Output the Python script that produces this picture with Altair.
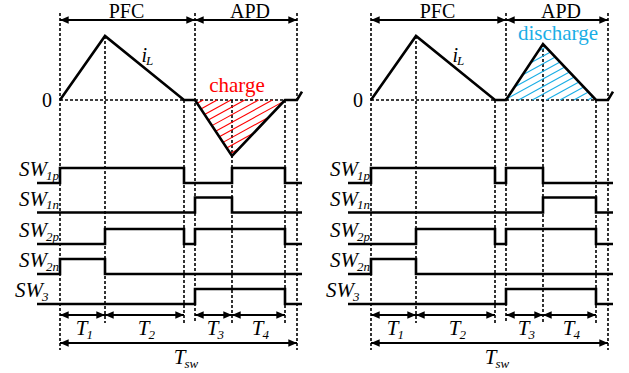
import altair as alt
import numpy as np
import pandas as pd

# ---------------- data ----------------
# switching instants within one period (time units), t0..t6 ; Tsw = t6 - t0
EVENTS = [0, 45, 124, 135, 172, 225, 237]
T_PRE = -23     # waveforms start a little before t0
T_POST = 242    # and end a little after t6
PANELS = ["charge", "discharge"]
PHASES = ["PFC", "APD"]
AREA_TEXT = ["charge", "discharge"]
IL_PFC_PEAK = [1.0, 1.0]        # normalised inductor current peak in PFC
IL_APD_PEAK = [-0.875, 0.875]   # APD extreme (negative = charge, positive = discharge)
IL_TAIL = [0.13, 0.13]          # start of next period
SW_NAMES = ["1p", "1n", "2p", "2n", "3"]
# gate states for intervals [pre, T1, T2, dead, T3, T4, rest]
SW_STATES = {
    "charge": [
        [0, 1, 1, 0, 0, 1, 0],
        [0, 0, 0, 0, 1, 0, 0],
        [0, 0, 1, 0, 1, 1, 0],
        [0, 1, 0, 0, 0, 0, 0],
        [0, 0, 0, 0, 1, 1, 0],
    ],
    "discharge": [
        [0, 1, 1, 0, 1, 0, 0],
        [0, 0, 0, 0, 0, 1, 0],
        [0, 0, 1, 0, 1, 1, 0],
        [0, 1, 0, 0, 0, 0, 0],
        [0, 0, 0, 0, 1, 1, 0],
    ],
}
INTERVALS = [("1", 0, 1), ("2", 1, 2), ("3", 3, 4), ("4", 4, 5)]
AREA_COLORS = ["#ff0000", "#1aaee6"]

# ---------------- layout ----------------
W, H = 629, 373
X0 = [60, 371]
Y_ZERO = 100
IL_GAIN = 64
ROW_LOW = [183, 212.5, 244, 274, 304]
ROW_AMP = 15
Y_TOP_ARROW = 20
Y_T_ARROW = 315
Y_TSW_ARROW = 343
Y_DASH_TOP = 13
Y_DASH_MID = 323
Y_DASH_LOW = 350
SERIF = "Liberation Serif"


def px(p, t):
    return X0[p] + t


def py(v):
    return Y_ZERO - IL_GAIN * v


vdash, zero, il, hatch, sig, arrows, heads = [], [], [], [], [], [], []
txt_reg, txt_it_r, txt_it_l = [], [], []


def hatch_lines(poly, slope, step):
    vals = [y + slope * x for x, y in poly]
    out = []
    for k in np.arange(min(vals) + step * 0.6, max(vals), step):
        pts = []
        n = len(poly)
        for i in range(n):
            (x1, y1), (x2, y2) = poly[i], poly[(i + 1) % n]
            f1 = y1 + slope * x1 - k
            f2 = y2 + slope * x2 - k
            if f1 * f2 < 0:
                u = f1 / (f1 - f2)
                pts.append((x1 + u * (x2 - x1), y1 + u * (y2 - y1)))
        if len(pts) >= 2:
            pts.sort()
            out.append((pts[0], pts[-1]))
    return out


def add_arrow(p, ta, tb, y):
    xa, xb = px(p, ta), px(p, tb)
    arrows.append(dict(x=xa, x2=xb, y=y))
    heads.append(dict(x=xa, y=y, d="l"))
    heads.append(dict(x=xb, y=y, d="r"))


for p, name in enumerate(PANELS):
    e = EVENTS
    # vertical dashed guides
    guide = [
        (e[0], Y_DASH_TOP, Y_DASH_LOW),
        (e[1], py(IL_PFC_PEAK[p]), Y_DASH_MID),
        (e[2], Y_ZERO, Y_DASH_MID),
        (e[3], Y_DASH_TOP, Y_DASH_MID),
        (e[4], min(Y_ZERO, py(IL_APD_PEAK[p])), Y_DASH_MID),
        (e[5], Y_ZERO, Y_DASH_MID),
        (e[6], Y_DASH_TOP, Y_DASH_LOW),
    ]
    for t, ya, yb in guide:
        vdash.append(dict(x=px(p, t), y=ya, y2=yb))
    zero.append(dict(x=px(p, e[0]), x2=px(p, e[6]), y=Y_ZERO))

    # inductor current
    il_t = [e[0], e[1], e[2], e[3], e[4], e[5], e[6], T_POST]
    il_v = [0, IL_PFC_PEAK[p], 0, 0, IL_APD_PEAK[p], 0, 0, IL_TAIL[p]]
    for i, (t, v) in enumerate(zip(il_t, il_v)):
        il.append(dict(x=px(p, t), y=py(v), panel=name, o=i))

    # hatch of the APD triangle
    tri = [(px(p, e[3]), py(0)), (px(p, e[4]), py(IL_APD_PEAK[p])), (px(p, e[5]), py(0))]
    for (xa, ya), (xb, yb) in hatch_lines(tri, 0.55, 7.6):
        hatch.append(dict(x=xa, y=ya, x2=xb, y2=yb, c=AREA_COLORS[p]))

    # gate signals
    bps = [T_PRE, e[0], e[1], e[2], e[3], e[4], e[5], T_POST]
    for r, states in enumerate(SW_STATES[name]):
        vals = list(states) + [states[-1]]
        for i, (t, s) in enumerate(zip(bps, vals)):
            sig.append(dict(x=px(p, t), y=ROW_LOW[r] - ROW_AMP * s,
                            key=f"{name}-{r}", o=i))
        right = 47 if r < 4 else 43
        txt_it_r.append(dict(x=X0[p] - 60 + right, y=ROW_LOW[r] - 7, text="SW", size=21, c="black"))
        txt_it_l.append(dict(x=X0[p] - 60 + right - 1, y=ROW_LOW[r] - 3.5,
                             text=SW_NAMES[r], size=13, c="black"))

    # arrows
    add_arrow(p, e[0], e[3], Y_TOP_ARROW)
    add_arrow(p, e[3], e[6], Y_TOP_ARROW)
    for lab, a, b in INTERVALS:
        add_arrow(p, e[a], e[b], Y_T_ARROW)
        anchor = (px(p, e[a]) + px(p, e[b])) / 2 + 5
        txt_it_r.append(dict(x=anchor, y=335, text="T", size=21, c="black"))
        txt_it_l.append(dict(x=anchor - 1, y=338.5, text=lab, size=13, c="black"))
    add_arrow(p, e[0], e[6], Y_TSW_ARROW)
    anchor = (px(p, e[0]) + px(p, e[6])) / 2 + 7
    txt_it_r.append(dict(x=anchor, y=364, text="T", size=21, c="black"))
    txt_it_l.append(dict(x=anchor - 1, y=368, text="sw", size=13, c="black"))

    # phase titles and labels
    txt_reg.append(dict(x=(px(p, e[0]) + px(p, e[3])) / 2 - 1, y=18, text=PHASES[0], size=20, c="black"))
    txt_reg.append(dict(x=(px(p, e[3]) + px(p, e[6])) / 2 + 4, y=18, text=PHASES[1], size=20, c="black"))
    txt_reg.append(dict(x=X0[p] - 13, y=107, text="0", size=20, c="black"))
    if IL_APD_PEAK[p] < 0:
        txt_reg.append(dict(x=px(p, e[4]) + 5, y=92, text=AREA_TEXT[p], size=21, c=AREA_COLORS[p]))
    else:
        txt_reg.append(dict(x=px(p, e[4]) + 15, y=40, text=AREA_TEXT[p], size=21, c=AREA_COLORS[p]))
    txt_it_r.append(dict(x=X0[p] + 87, y=62, text="i", size=20, c="black"))
    txt_it_l.append(dict(x=X0[p] + 86, y=65, text="L", size=13, c="black"))

# ---------------- chart ----------------
X = lambda f="x": alt.X(f"{f}:Q", scale=alt.Scale(domain=[0, W], nice=False, zero=False), axis=None)
Y = lambda f="y": alt.Y(f"{f}:Q", scale=alt.Scale(domain=[0, H], nice=False, zero=False, reverse=True), axis=None)

l_vdash = alt.Chart(pd.DataFrame(vdash)).mark_rule(
    color="black", strokeWidth=1.6, strokeDash=[3, 2]
).encode(x=X(), y=Y(), y2="y2:Q")

l_zero = alt.Chart(pd.DataFrame(zero)).mark_rule(
    color="black", strokeWidth=1.6, strokeDash=[3, 2]
).encode(x=X(), x2="x2:Q", y=Y())

l_hatch = alt.Chart(pd.DataFrame(hatch)).mark_rule(strokeWidth=1.1).encode(
    x=X(), y=Y(), x2="x2:Q", y2="y2:Q", color=alt.Color("c:N", scale=None)
)

l_il = alt.Chart(pd.DataFrame(il)).mark_line(color="black", strokeWidth=2.6).encode(
    x=X(), y=Y(), detail="panel:N", order="o:Q"
)

l_sig = alt.Chart(pd.DataFrame(sig)).mark_line(
    color="black", strokeWidth=2.6, interpolate="step-after"
).encode(x=X(), y=Y(), detail="key:N", order="o:Q")

l_arrows = alt.Chart(pd.DataFrame(arrows)).mark_rule(color="black", strokeWidth=2.2).encode(
    x=X(), x2="x2:Q", y=Y()
)

HEAD_R = "M0,0L-1,-0.42L-1,0.42Z"
HEAD_L = "M0,0L1,-0.42L1,0.42Z"
l_heads = alt.Chart(pd.DataFrame(heads)).mark_point(
    filled=True, color="black", opacity=1, size=300, strokeWidth=0
).encode(
    x=X(), y=Y(),
    shape=alt.Shape("d:N", scale=alt.Scale(domain=["r", "l"], range=[HEAD_R, HEAD_L]), legend=None),
)


def text_layer(rows, **kw):
    return alt.Chart(pd.DataFrame(rows)).mark_text(
        font=SERIF, baseline="alphabetic", **kw
    ).encode(
        x=X(), y=Y(), text="text:N",
        size=alt.Size("size:Q", scale=None),
        color=alt.Color("c:N", scale=None),
    )


l_treg = text_layer(txt_reg, align="center")
l_tir = text_layer(txt_it_r, align="right", fontStyle="italic")
l_til = text_layer(txt_it_l, align="left", fontStyle="italic")

chart = alt.layer(
    l_vdash, l_zero, l_hatch, l_il, l_sig, l_arrows, l_heads, l_treg, l_tir, l_til
).properties(
    width=W, height=H, autosize=alt.AutoSizeParams(type="none"), padding=0, background="white"
).configure_view(strokeWidth=0)

chart.save("out.html", embed_options={"renderer": "svg", "actions": False})
